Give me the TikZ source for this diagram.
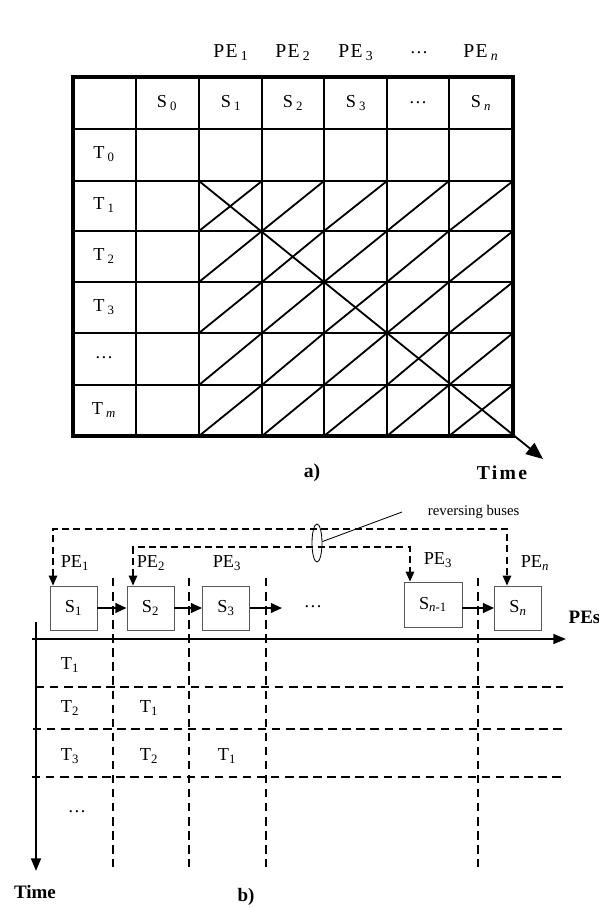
\documentclass[tikz,border=0pt]{standalone}
\usepackage{fontspec}
\setmainfont{Liberation Serif}
\usetikzlibrary{arrows.meta, positioning, calc, shapes.geometric}
\newcommand{\lsub}[1]{\textsubscript{#1}}

\begin{document}
\begin{tikzpicture}[x=0.025cm, y=-0.025cm,
  lbl/.style={font=\fontsize{13}{15}\selectfont, inner sep=1pt},
  head/.style={font=\fontsize{14}{16}\selectfont\addfontfeature{LetterSpace=6}, inner sep=1pt},
  bold/.style={font=\bfseries\fontsize{13.5}{15}\selectfont, inner sep=1pt},
  gridline/.style={line width=1.3pt},
  outerline/.style={line width=2.2pt},
  stage/.style={draw=black!65, line width=0.6pt, minimum width=1.175cm, minimum height=1.1cm, inner sep=0pt, font=\fontsize{13}{15}\selectfont},
  bus/.style={line width=0.9pt, dash pattern=on 5pt off 3pt},
  flow/.style={line width=1.4pt, -{Triangle[length=8pt,width=7pt]}},
  sep/.style={line width=1pt, dash pattern=on 6pt off 4pt}
]
\useasboundingbox (0,0) rectangle (599,909);

% a) table of stages and time steps
\foreach \x in {136,199,262,324,387,449} \draw[gridline] (\x,77) -- (\x,436);
\foreach \y in {129,181,231,282,333,385} \draw[gridline] (73,\y) -- (513,\y);
\foreach \xa/\xb in {199/262,262/324,324/387,387/449,449/513}
  \foreach \ya/\yb in {181/231,231/282,282/333,333/385,385/436}
    \draw[gridline] (\xa,\yb) -- (\xb,\ya);
\draw[outerline] (73,77) rectangle (513,436);

\coordinate (diagstart) at (199,181);
\coordinate (diagend) at (543,459);
\draw[gridline, -{Triangle[length=12pt,width=10pt]}] (diagstart) -- (diagend);

% column heads
\node[head] (pe1) at (231,53) {PE\,\lsub{1}};
\node[head] (pe2) at (293,53) {PE\,\lsub{2}};
\node[head] (pe3) at (356,53) {PE\,\lsub{3}};
\node[lbl] (pedots) at (419,53) {\dots};
\node[head] (pen) at (481,53) {PE\,\lsub{\itshape n}};

\node[lbl] (hs0) at (167,103) {S\,\lsub{0}};
\node[lbl] (hs1) at (231,103) {S\,\lsub{1}};
\node[lbl] (hs2) at (293,103) {S\,\lsub{2}};
\node[lbl] (hs3) at (356,103) {S\,\lsub{3}};
\node[lbl] (hsdots) at (418,103) {\dots};
\node[lbl] (hsn) at (481,103) {S\,\lsub{\itshape n}};

% row heads
\node[lbl] (rt0) at (104,154) {T\,\lsub{0}};
\node[lbl] (rt1) at (104,205) {T\,\lsub{1}};
\node[lbl] (rt2) at (104,256) {T\,\lsub{2}};
\node[lbl] (rt3) at (104,307) {T\,\lsub{3}};
\node[lbl] (rtdots) at (104,358) {\dots};
\node[lbl] (rtm) at (104,410) {T\,\lsub{\itshape m}};

\node[font=\bfseries\fontsize{14}{16}\selectfont] (capa) at (312,473) {a)};
\node[font=\bfseries\fontsize{14}{16}\selectfont\addfontfeature{LetterSpace=12}] (timea) at (502,473) {Time};

% b) pipeline with reversing buses
\node[stage] (s1) at (73.5,608) {S\lsub{1}};
\node[stage] (s2) at (150.5,608) {S\lsub{2}};
\node[stage] (s3) at (226,608) {S\lsub{3}};
\node[stage, minimum width=1.45cm, minimum height=1.125cm] (snm) at (433,604.5) {S\lsub{\itshape n\upshape -1}};
\node[stage] (sn) at (518,608) {S\lsub{\itshape n}};
\node[lbl] (sdots) at (313,607) {\dots};

\coordinate (s3out) at (282,608);
\draw[flow] (s1) -- (s2);
\draw[flow] (s2) -- (s3);
\draw[flow] (s3) -- (s3out);
\draw[flow] (snm.east |- sn) -- (sn);

\coordinate (busa1) at (53,529);
\coordinate (busa2) at (507,529);
\coordinate (busb1) at (133,547);
\coordinate (busb2) at (410,547);
\draw[bus, {Triangle[length=7pt,width=6pt]}-{Triangle[length=7pt,width=6pt]}]
  (busa1 |- s1.north) -- (busa1) -- (busa2) -- (busa2 |- sn.north);
\draw[bus, {Triangle[length=7pt,width=6pt]}-{Triangle[length=7pt,width=6pt]}]
  (busb1 |- s2.north) -- (busb1) -- (busb2) -- (busb2 |- snm.north);

\node[ellipse, draw, line width=0.6pt, minimum width=10*0.025cm, minimum height=38*0.025cm, inner sep=0pt] (bundle) at (317,543) {};
\node[font=\fontsize{10.5}{12}\selectfont, anchor=west] (revlabel) at (423,512) {reversing buses};
\coordinate (revtip) at (402,512);
\draw[line width=0.6pt] (bundle.15) -- (revtip);

\node[lbl] (bpe1) at (75,563) {PE\lsub{1}};
\node[lbl] (bpe2) at (151,563) {PE\lsub{2}};
\node[lbl] (bpe3) at (227,563) {PE\lsub{3}};
\node[lbl] (bpe3b) at (438,560) {PE\lsub{3}};
\node[lbl] (bpen) at (535,563) {PE\lsub{\itshape n}};

% axes
\coordinate (pesstart) at (32,639);
\coordinate (pesend) at (566,639);
\draw[line width=1.4pt, -{Triangle[length=9pt,width=7pt]}] (pesstart) -- (pesend);
\node[bold, anchor=west] (pes) at (567,617) {PEs};

\coordinate (timestart) at (36,622);
\coordinate (timeend) at (36,871);
\draw[line width=1.6pt, -{Triangle[length=9pt,width=7pt]}] (timestart) -- (timeend);
\node[bold] (timeb) at (35,892) {Time};
\node[bold] (capb) at (246,897) {b)};

% time slots
\foreach \x in {113,189,266,478} \draw[sep] (\x,578) -- (\x,867);
\draw[sep, line width=1.5pt] (36,687) -- (563,687);
\draw[sep] (33,729) -- (563,729);
\draw[sep] (32,777) -- (563,777);

\node[lbl] (bt1) at (70,665) {T\lsub{1}};
\node[lbl] (bt2) at (70,708) {T\lsub{2}};
\node[lbl] (bt2a) at (149,708) {T\lsub{1}};
\node[lbl] (bt3) at (70,756) {T\lsub{3}};
\node[lbl] (bt3a) at (149,756) {T\lsub{2}};
\node[lbl] (bt3b) at (227,756) {T\lsub{1}};
\node[lbl] (btdots) at (77,812) {\dots};

\end{tikzpicture}
\end{document}
